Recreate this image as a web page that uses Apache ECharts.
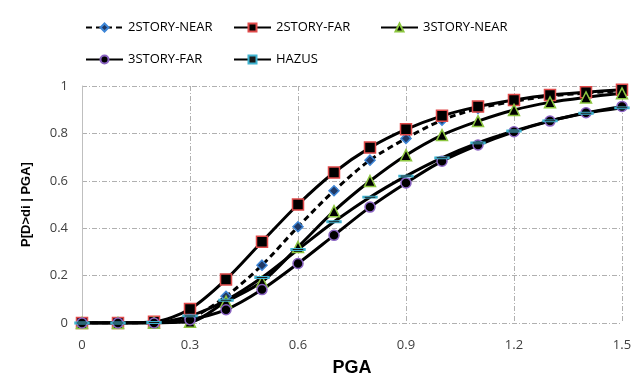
<!DOCTYPE html>
<html>
<head>
<meta charset="utf-8">
<script src="https://cdn.jsdelivr.net/npm/echarts@6/dist/echarts.min.js"></script>
<style>
  html, body { margin: 0; padding: 0; background: #fff; }
  #chart { width: 644px; height: 377px; }
</style>
</head>
<body>
<div id="chart"></div>
<script>
// PGA levels (g)
const pga = [0, 0.1, 0.2, 0.3, 0.4, 0.5, 0.6, 0.7, 0.8, 0.9, 1.0, 1.1, 1.2, 1.3, 1.4, 1.5];

// Exceedance probabilities P[D>di | PGA]
const story2Near = [0, 0, 0.003, 0.02, 0.113, 0.244, 0.406, 0.558, 0.687, 0.779, 0.856, 0.905, 0.935, 0.958, 0.970, 0.980];
const story2Far  = [0, 0, 0.005, 0.059, 0.184, 0.343, 0.500, 0.635, 0.740, 0.817, 0.874, 0.913, 0.941, 0.962, 0.974, 0.984];
const story3Near = [0, 0, 0.001, 0.005, 0.090, 0.174, 0.321, 0.472, 0.599, 0.708, 0.793, 0.852, 0.899, 0.931, 0.952, 0.969];
const story3Far  = [0, 0, 0.000, 0.014, 0.056, 0.141, 0.251, 0.370, 0.489, 0.591, 0.683, 0.751, 0.807, 0.852, 0.887, 0.914];
const hazus      = [0, 0, 0.002, 0.030, 0.096, 0.192, 0.310, 0.427, 0.531, 0.620, 0.697, 0.760, 0.810, 0.853, 0.885, 0.908];

// Axis tick labels
const xTicks = ['0', '0.3', '0.6', '0.9', '1.2', '1.5'];
const yTicks = ['0', '0.2', '0.4', '0.6', '0.8', '1'];

const names = ['2STORY-NEAR', '2STORY-FAR', '3STORY-NEAR', '3STORY-FAR', 'HAZUS'];

const pair = arr => pga.map((x, i) => [x, arr[i]]);

const txt = '#404040';
const gridLine = { show: true, lineStyle: { color: '#b0b0b0', type: [5, 2, 1, 2], width: 1 } };

function line(name, data, symbol, size, fill, border, dashed) {
  return {
    name: name,
    type: 'line',
    data: pair(data),
    smooth: 0.3,
    symbol: symbol,
    symbolSize: size,
    symbolKeepAspect: true,
    showAllSymbol: true,
    lineStyle: { color: '#000', width: 3, type: dashed ? [6, 4] : 'solid' },
    itemStyle: { color: fill, borderColor: border, borderWidth: 1.5 },
    emphasis: { disabled: true }
  };
}

const legendPos = [
  [80, 16], [228, 16], [375, 16],
  [80, 48], [228, 48]
];

const chart = echarts.init(document.getElementById('chart'), null, { renderer: 'canvas' });
chart.setOption({
  animation: false,
  backgroundColor: '#fff',
  textStyle: { fontFamily: 'Liberation Sans Narrow, Open Sans, sans-serif' },
  legend: names.map((n, i) => ({
    data: [n],
    left: legendPos[i][0],
    top: legendPos[i][1],
    itemWidth: 37,
    itemHeight: 10,
    itemGap: 5,
    textStyle: { color: '#000', fontSize: 13, fontFamily: 'Liberation Sans Narrow, Open Sans, sans-serif' },
    selectedMode: false
  })),
  grid: { left: 82, right: 22, top: 86, bottom: 54, containLabel: false, outerBoundsMode: 'none' },
  xAxis: {
    type: 'value',
    min: 0, max: 1.5, interval: 0.3,
    name: 'PGA',
    nameLocation: 'middle',
    nameGap: 36,
    nameTextStyle: { fontSize: 18, fontWeight: 'bold', color: '#000', fontFamily: 'Liberation Sans, Arial, sans-serif' },
    axisLine: { show: false },
    axisTick: { show: false },
    axisLabel: {
      color: txt, fontSize: 13, margin: 16,
      formatter: v => xTicks[Math.round(v / 0.3)]
    },
    splitLine: gridLine
  },
  yAxis: {
    type: 'value',
    min: 0, max: 1, interval: 0.2,
    name: 'P[D>di | PGA]',
    nameLocation: 'middle',
    nameGap: 49,
    nameTextStyle: { fontSize: 13, fontWeight: 'bold', color: '#000', fontFamily: 'Liberation Sans, Arial, sans-serif' },
    axisLine: { show: true, lineStyle: { color: '#bfbfbf', width: 1 } },
    axisTick: { show: false },
    axisLabel: {
      color: txt, fontSize: 13, margin: 14,
      formatter: v => yTicks[Math.round(v / 0.2)]
    },
    splitLine: gridLine
  },
  series: [
    line('2STORY-NEAR', story2Near, 'diamond', 10, '#1f3864', '#3d85d6', true),
    line('2STORY-FAR', story2Far, 'rect', 11, '#000', '#e04a4a', false),
    line('3STORY-NEAR', story3Near, 'triangle', 11, '#000', '#8cc63f', false),
    line('3STORY-FAR', story3Far, 'circle', 10, '#000', '#8a63c2', false),
    line('HAZUS', hazus, 'path://M0,0 L26,0 L26,10 L0,10 Z', [13, 5], '#1a1a1a', '#3fb3d0', false)
  ]
});
</script>
</body>
</html>
